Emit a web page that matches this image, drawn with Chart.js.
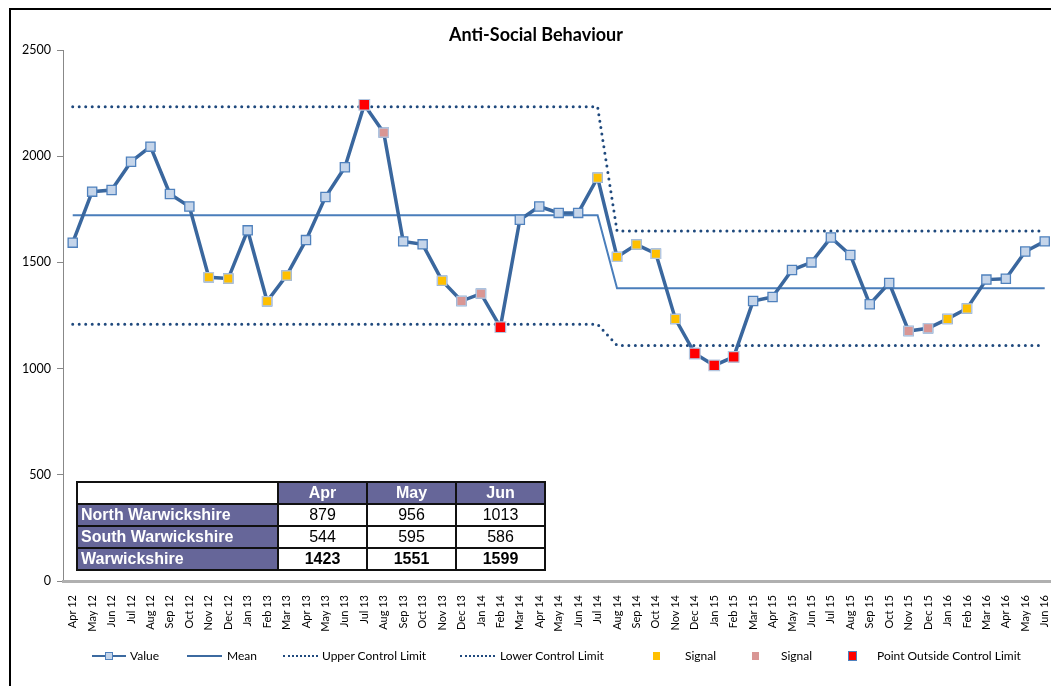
<!DOCTYPE html>
<html>
<head>
<meta charset="utf-8">
<script src="https://cdn.jsdelivr.net/npm/chart.js@4.4.0/dist/chart.umd.min.js"></script>
<style>
  body { margin: 0; background: #fff; overflow: hidden; width: 1051px; height: 686px; position: relative; font-family: Lato, "DejaVu Sans", sans-serif; }
  #frame { position: absolute; left: 9px; top: 8px; width: 1100px; height: 700px; border-left: 2px solid #000; border-top: 2px solid #000; }
  #wrap { position: absolute; left: 0; top: 0; width: 1064px; height: 686px; }
  #title { position: absolute; left: 0; width: 1072px; top: 23px; text-align: center; font-weight: bold; font-size: 18px; color: #000; }
  #tbl { position: absolute; left: 76px; top: 481px; border-collapse: collapse; font-family: "Liberation Sans", Arial, sans-serif; font-size: 16px; }
  #tbl td { border: 2px solid #111; padding: 0 3px; height: 20px; line-height: 20px; }
  #tbl .h { background: #666699; color: #fff; font-weight: bold; text-align: center; }
  #tbl .r { background: #666699; color: #fff; font-weight: bold; text-align: left; }
  #tbl .v { background: #fff; color: #000; text-align: center; }
  #tbl .b { font-weight: bold; }
  .lg { position: absolute; top: 648px; font-size: 12px; color: #000; height: 16px; line-height: 16px; white-space: nowrap; }
  .ln { position: absolute; top: 7px; height: 2px; background: #3c6aa0; }
  .dot { position: absolute; top: 7px; height: 0; border-top: 2px dotted #1f497d; }
  .sq { position: absolute; top: 4px; width: 7px; height: 8px; }
</style>
</head>
<body>
<div id="frame"></div>
<div id="wrap"><canvas id="myChart" width="1064" height="686"></canvas></div>
<div id="title">Anti-Social Behaviour</div>
<table id="tbl">
  <tr><td style="width:193px;background:#fff"></td><td class="h" style="width:81px">Apr</td><td class="h" style="width:81px">May</td><td class="h" style="width:81px">Jun</td></tr>
  <tr><td class="r">North Warwickshire</td><td class="v">879</td><td class="v">956</td><td class="v">1013</td></tr>
  <tr><td class="r">South Warwickshire</td><td class="v">544</td><td class="v">595</td><td class="v">586</td></tr>
  <tr><td class="r">Warwickshire</td><td class="v b">1423</td><td class="v b">1551</td><td class="v b">1599</td></tr>
</table>
<div class="lg" style="left:92px;width:80px"><span class="ln" style="left:0;width:34px"></span><span class="sq" style="left:13px;top:4px;width:6px;height:6px;background:#c5d5ea;border:1px solid #4f81bd"></span><span style="position:absolute;left:38px">Value</span></div>
<div class="lg" style="left:187px;width:80px"><span class="ln" style="left:0;width:35px"></span><span style="position:absolute;left:40px">Mean</span></div>
<div class="lg" style="left:283px;width:180px"><span class="dot" style="left:0;width:35px"></span><span style="position:absolute;left:39px">Upper Control Limit</span></div>
<div class="lg" style="left:460px;width:180px"><span class="dot" style="left:0;width:35px"></span><span style="position:absolute;left:40px">Lower Control Limit</span></div>
<div class="lg" style="left:653px;width:80px"><span class="sq" style="left:0;background:#ffc000"></span><span style="position:absolute;left:32px">Signal</span></div>
<div class="lg" style="left:752px;width:80px"><span class="sq" style="left:0;background:#d99694"></span><span style="position:absolute;left:29px">Signal</span></div>
<div class="lg" style="left:848px;width:200px"><span class="sq" style="left:0;background:#ff0000;border:1px solid #4f81bd;width:7px;height:8px;top:3px"></span><span style="position:absolute;left:29px">Point Outside Control Limit</span></div>

<script>
const months = ['Apr 12','May 12','Jun 12','Jul 12','Aug 12','Sep 12','Oct 12','Nov 12','Dec 12',
  'Jan 13','Feb 13','Mar 13','Apr 13','May 13','Jun 13','Jul 13','Aug 13','Sep 13','Oct 13','Nov 13','Dec 13',
  'Jan 14','Feb 14','Mar 14','Apr 14','May 14','Jun 14','Jul 14','Aug 14','Sep 14','Oct 14','Nov 14','Dec 14',
  'Jan 15','Feb 15','Mar 15','Apr 15','May 15','Jun 15','Jul 15','Aug 15','Sep 15','Oct 15','Nov 15','Dec 15',
  'Jan 16','Feb 16','Mar 16','Apr 16','May 16','Jun 16'];

const values = [1593, 1833, 1841, 1974, 2045, 1822, 1763, 1430, 1424,
  1651, 1317, 1438, 1605, 1808, 1948, 2242, 2111, 1599, 1585, 1414, 1318,
  1353, 1195, 1701, 1763, 1733, 1733, 1899, 1526, 1584, 1541, 1234, 1071,
  1015, 1055, 1318, 1337, 1464, 1500, 1617, 1535, 1303, 1403, 1177, 1190,
  1234, 1283, 1419, 1423, 1551, 1599];

const mean = [1722, 1722, 1722, 1722, 1722, 1722, 1722, 1722, 1722,
  1722, 1722, 1722, 1722, 1722, 1722, 1722, 1722, 1722, 1722, 1722, 1722,
  1722, 1722, 1722, 1722, 1722, 1722, 1722, 1378, 1378, 1378, 1378, 1378,
  1378, 1378, 1378, 1378, 1378, 1378, 1378, 1378, 1378, 1378, 1378, 1378,
  1378, 1378, 1378, 1378, 1378, 1378];

const upperLimit = [2233, 2233, 2233, 2233, 2233, 2233, 2233, 2233, 2233,
  2233, 2233, 2233, 2233, 2233, 2233, 2233, 2233, 2233, 2233, 2233, 2233,
  2233, 2233, 2233, 2233, 2233, 2233, 2233, 1648, 1648, 1648, 1648, 1648,
  1648, 1648, 1648, 1648, 1648, 1648, 1648, 1648, 1648, 1648, 1648, 1648,
  1648, 1648, 1648, 1648, 1648, 1648];

const lowerLimit = [1209, 1209, 1209, 1209, 1209, 1209, 1209, 1209, 1209,
  1209, 1209, 1209, 1209, 1209, 1209, 1209, 1209, 1209, 1209, 1209, 1209,
  1209, 1209, 1209, 1209, 1209, 1209, 1209, 1109, 1109, 1109, 1109, 1109,
  1109, 1109, 1109, 1109, 1109, 1109, 1109, 1109, 1109, 1109, 1109, 1109,
  1109, 1109, 1109, 1109, 1109, 1109];

// months flagged on the chart
const signalYellow = ['Nov 12','Dec 12','Feb 13','Mar 13','Nov 13','Jul 14','Aug 14','Sep 14','Oct 14','Nov 14','Jan 16','Feb 16'];
const signalPink = ['Aug 13','Dec 13','Jan 14','Nov 15','Dec 15'];
const outside = ['Jul 13','Feb 14','Dec 14','Jan 15','Feb 15'];

const yTicks = [0, 500, 1000, 1500, 2000, 2500];

function pick(list) {
    return months.map((m, i) => list.includes(m) ? values[i] : null);
}

function marks(list, colour, size) {
    return {
        label: 'Signal',
        data: pick(list),
        showLine: false,
        pointStyle: 'rect',
        pointRadius: size,
        pointBackgroundColor: colour,
        pointBorderColor: '#b4c6df',
        pointBorderWidth: 1.2,
        order: 0
    };
}

const ctx = document.getElementById('myChart');

new Chart(ctx, {
    type: 'line',
    data: {
        labels: months,
        datasets: [
            marks(outside, '#ff0000', 7.5),
            marks(signalPink, '#d99694', 6.5),
            marks(signalYellow, '#ffc000', 6.5),
            {
                label: 'Value',
                data: values,
                borderColor: '#3a679e',
                borderWidth: 3.5,
                pointStyle: 'rect',
                pointRadius: 6.5,
                pointBackgroundColor: '#c5d5ea',
                pointBorderColor: '#4f81bd',
                pointBorderWidth: 1.3,
                tension: 0,
                order: 1
            },
            {
                label: 'Mean',
                data: mean,
                borderColor: '#4a7ebb',
                borderWidth: 2,
                pointRadius: 0,
                order: 2
            },
            {
                label: 'Upper Control Limit',
                data: upperLimit,
                borderColor: '#1f497d',
                borderWidth: 3,
                borderDash: [0, 6.5],
                borderCapStyle: 'round',
                pointRadius: 0,
                order: 2
            },
            {
                label: 'Lower Control Limit',
                data: lowerLimit,
                borderColor: '#1f497d',
                borderWidth: 3,
                borderDash: [0, 6.5],
                borderCapStyle: 'round',
                pointRadius: 0,
                order: 2
            }
        ]
    },
    options: {
        responsive: false,
        animation: false,
        layout: {
            padding: { top: 50, right: 0, left: 0, bottom: 0 }
        },
        scales: {
            y: {
                min: 0,
                max: 2500,
                afterFit: s => { s.width = 63; },
                afterBuildTicks: s => { s.ticks = yTicks.map(v => ({ value: v })); },
                ticks: {
                    color: '#000',
                    font: { family: 'Lato', size: 12.5 },
                    padding: 6,
                    callback: v => String(v)
                },
                grid: {
                    drawOnChartArea: false,
                    tickLength: 6,
                    color: '#888'
                },
                border: { color: '#888', width: 1 }
            },
            x: {
                offset: true,
                afterFit: s => { s.height = 105; },
                ticks: {
                    color: '#000',
                    font: { family: 'Lato', size: 11 },
                    minRotation: 90,
                    maxRotation: 90,
                    autoSkip: false,
                    padding: 6
                },
                grid: {
                    display: false
                },
                border: { color: '#b0b0b0', width: 3 }
            }
        },
        plugins: {
            legend: { display: false },
            title: { display: false },
            tooltip: { enabled: false }
        }
    }
});
</script>
</body>
</html>
